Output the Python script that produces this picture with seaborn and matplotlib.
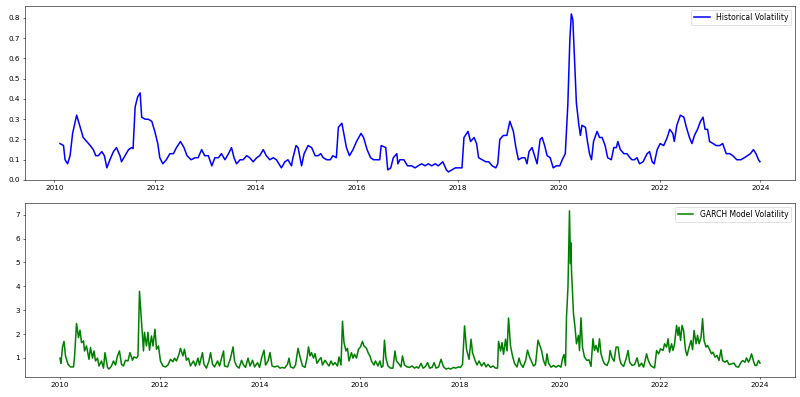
import pandas as pd
import matplotlib
matplotlib.use("Agg")
import matplotlib.pyplot as plt
import seaborn as sns

# Historical volatility (decimal year, value)
hv_years = [
    2010.11, 2010.18, 2010.21, 2010.26, 2010.31, 2010.36, 2010.44, 2010.51, 2010.57, 2010.64,
    2010.71, 2010.77, 2010.82, 2010.87, 2010.94, 2010.99, 2011.04, 2011.10, 2011.17, 2011.23,
    2011.30, 2011.33, 2011.40, 2011.47, 2011.53, 2011.56, 2011.60, 2011.65, 2011.70, 2011.73,
    2011.80, 2011.86, 2011.93, 2011.99, 2012.05, 2012.09, 2012.15, 2012.22, 2012.29, 2012.36,
    2012.42, 2012.50, 2012.57, 2012.63, 2012.71, 2012.79, 2012.85, 2012.92, 2012.98, 2013.05,
    2013.12, 2013.18, 2013.25, 2013.31, 2013.38, 2013.45, 2013.51, 2013.56, 2013.61, 2013.68,
    2013.74, 2013.81, 2013.87, 2013.94, 2014.01, 2014.07, 2014.14, 2014.20, 2014.27, 2014.34,
    2014.40, 2014.50, 2014.57, 2014.63, 2014.70, 2014.72, 2014.79, 2014.83, 2014.90, 2014.95,
    2015.03, 2015.10, 2015.17, 2015.23, 2015.28, 2015.33, 2015.40, 2015.47, 2015.52, 2015.59,
    2015.63, 2015.70, 2015.73, 2015.79, 2015.85, 2015.92, 2015.99, 2016.08, 2016.13, 2016.20,
    2016.27, 2016.33, 2016.40, 2016.45, 2016.48, 2016.57, 2016.61, 2016.67, 2016.72, 2016.79,
    2016.81, 2016.85, 2016.93, 2017.00, 2017.08, 2017.15, 2017.21, 2017.28, 2017.35, 2017.41,
    2017.48, 2017.55, 2017.61, 2017.70, 2017.77, 2017.81, 2017.88, 2017.95, 2018.03, 2018.08,
    2018.12, 2018.20, 2018.25, 2018.32, 2018.37, 2018.41, 2018.48, 2018.55, 2018.61, 2018.68,
    2018.75, 2018.79, 2018.83, 2018.90, 2018.97, 2019.03, 2019.10, 2019.15, 2019.20, 2019.27,
    2019.33, 2019.37, 2019.41, 2019.47, 2019.52, 2019.57, 2019.63, 2019.67, 2019.72, 2019.77,
    2019.83, 2019.89, 2019.95, 2020.02, 2020.07, 2020.13, 2020.18, 2020.22, 2020.25, 2020.28,
    2020.31, 2020.35, 2020.40, 2020.43, 2020.46, 2020.53, 2020.57, 2020.61, 2020.65, 2020.69,
    2020.76, 2020.81, 2020.86, 2020.92, 2020.97, 2021.04, 2021.09, 2021.14, 2021.17, 2021.22,
    2021.29, 2021.35, 2021.41, 2021.45, 2021.50, 2021.55, 2021.60, 2021.67, 2021.75, 2021.80,
    2021.85, 2021.89, 2021.95, 2022.01, 2022.08, 2022.15, 2022.20, 2022.26, 2022.29, 2022.34,
    2022.41, 2022.48, 2022.53, 2022.59, 2022.64, 2022.69, 2022.75, 2022.81, 2022.86, 2022.90,
    2022.95, 2022.99, 2023.06, 2023.12, 2023.19, 2023.25, 2023.32, 2023.39, 2023.45, 2023.53,
    2023.61, 2023.68, 2023.74, 2023.80, 2023.86, 2023.91, 2023.96, 2023.99,
]
hv_values = [
    0.18, 0.17, 0.10, 0.08, 0.12, 0.23, 0.32, 0.26, 0.21, 0.19,
    0.17, 0.15, 0.12, 0.12, 0.14, 0.12, 0.06, 0.10, 0.14, 0.16,
    0.12, 0.09, 0.12, 0.15, 0.16, 0.155, 0.36, 0.41, 0.43, 0.31,
    0.30, 0.30, 0.29, 0.24, 0.18, 0.11, 0.08, 0.10, 0.13, 0.13,
    0.16, 0.19, 0.16, 0.12, 0.10, 0.11, 0.11, 0.15, 0.12, 0.12,
    0.07, 0.11, 0.11, 0.13, 0.10, 0.13, 0.16, 0.11, 0.08, 0.10,
    0.10, 0.12, 0.11, 0.09, 0.11, 0.12, 0.15, 0.12, 0.10, 0.11,
    0.10, 0.06, 0.09, 0.10, 0.07, 0.10, 0.17, 0.16, 0.07, 0.13,
    0.17, 0.16, 0.12, 0.12, 0.13, 0.11, 0.10, 0.10, 0.12, 0.11,
    0.26, 0.28, 0.24, 0.16, 0.12, 0.15, 0.19, 0.23, 0.21, 0.15,
    0.11, 0.10, 0.10, 0.10, 0.17, 0.16, 0.05, 0.06, 0.11, 0.13,
    0.08, 0.10, 0.10, 0.07, 0.07, 0.06, 0.07, 0.08, 0.07, 0.08,
    0.07, 0.08, 0.07, 0.09, 0.05, 0.04, 0.05, 0.06, 0.06, 0.06,
    0.21, 0.24, 0.19, 0.21, 0.18, 0.11, 0.10, 0.09, 0.09, 0.07,
    0.06, 0.08, 0.20, 0.22, 0.22, 0.29, 0.24, 0.16, 0.10, 0.11,
    0.11, 0.08, 0.14, 0.16, 0.12, 0.08, 0.20, 0.21, 0.17, 0.12,
    0.11, 0.06, 0.07, 0.07, 0.10, 0.13, 0.37, 0.69, 0.82, 0.79,
    0.61, 0.38, 0.27, 0.22, 0.27, 0.26, 0.19, 0.13, 0.10, 0.19,
    0.24, 0.21, 0.21, 0.17, 0.11, 0.10, 0.16, 0.16, 0.19, 0.15,
    0.13, 0.13, 0.11, 0.10, 0.10, 0.11, 0.08, 0.09, 0.13, 0.14,
    0.09, 0.08, 0.15, 0.18, 0.17, 0.21, 0.25, 0.23, 0.19, 0.27,
    0.32, 0.31, 0.26, 0.21, 0.18, 0.22, 0.25, 0.29, 0.31, 0.25,
    0.25, 0.19, 0.18, 0.17, 0.17, 0.18, 0.13, 0.13, 0.12, 0.10,
    0.10, 0.11, 0.12, 0.13, 0.15, 0.13, 0.10, 0.09,
]

# GARCH model volatility (decimal year, value)
garch_years = [
    2010.00, 2010.02, 2010.05, 2010.08, 2010.11, 2010.16, 2010.21, 2010.27, 2010.29, 2010.33,
    2010.37, 2010.40, 2010.43, 2010.47, 2010.49, 2010.53, 2010.58, 2010.61, 2010.65, 2010.68,
    2010.71, 2010.75, 2010.78, 2010.83, 2010.87, 2010.90, 2010.95, 2010.98, 2011.03, 2011.07,
    2011.11, 2011.15, 2011.19, 2011.23, 2011.27, 2011.31, 2011.36, 2011.40, 2011.45, 2011.48,
    2011.53, 2011.56, 2011.59, 2011.63, 2011.67, 2011.69, 2011.73, 2011.76, 2011.79, 2011.83,
    2011.86, 2011.90, 2011.93, 2011.97, 2012.01, 2012.06, 2012.11, 2012.16, 2012.21, 2012.26,
    2012.29, 2012.33, 2012.38, 2012.41, 2012.46, 2012.49, 2012.53, 2012.57, 2012.61, 2012.67,
    2012.71, 2012.76, 2012.79, 2012.85, 2012.88, 2012.93, 2012.98, 2013.01, 2013.05, 2013.09,
    2013.15, 2013.19, 2013.23, 2013.27, 2013.29, 2013.35, 2013.41, 2013.46, 2013.49, 2013.53,
    2013.58, 2013.63, 2013.67, 2013.71, 2013.76, 2013.80, 2013.85, 2013.89, 2013.95, 2013.99,
    2014.03, 2014.08, 2014.11, 2014.16, 2014.20, 2014.24, 2014.29, 2014.35, 2014.40, 2014.45,
    2014.49, 2014.55, 2014.58, 2014.61, 2014.67, 2014.71, 2014.76, 2014.80, 2014.85, 2014.90,
    2014.94, 2014.97, 2015.00, 2015.03, 2015.07, 2015.10, 2015.14, 2015.19, 2015.22, 2015.25,
    2015.30, 2015.34, 2015.38, 2015.42, 2015.46, 2015.50, 2015.55, 2015.58, 2015.62, 2015.65,
    2015.68, 2015.72, 2015.75, 2015.78, 2015.83, 2015.86, 2015.89, 2015.93, 2015.97, 2016.01,
    2016.05, 2016.08, 2016.13, 2016.17, 2016.20, 2016.23, 2016.28, 2016.31, 2016.36, 2016.40,
    2016.43, 2016.46, 2016.49, 2016.52, 2016.56, 2016.61, 2016.66, 2016.70, 2016.73, 2016.77,
    2016.82, 2016.85, 2016.89, 2016.94, 2016.99, 2017.04, 2017.09, 2017.13, 2017.17, 2017.22,
    2017.26, 2017.30, 2017.35, 2017.39, 2017.44, 2017.48, 2017.52, 2017.57, 2017.62, 2017.67,
    2017.72, 2017.77, 2017.81, 2017.87, 2017.91, 2017.97, 2018.01, 2018.05, 2018.09, 2018.13,
    2018.18, 2018.22, 2018.25, 2018.30, 2018.34, 2018.38, 2018.43, 2018.48, 2018.52, 2018.56,
    2018.61, 2018.66, 2018.71, 2018.75, 2018.77, 2018.81, 2018.84, 2018.87, 2018.91, 2018.94,
    2018.97, 2019.01, 2019.05, 2019.09, 2019.14, 2019.18, 2019.21, 2019.26, 2019.31, 2019.35,
    2019.39, 2019.42, 2019.47, 2019.51, 2019.56, 2019.63, 2019.67, 2019.71, 2019.74, 2019.77,
    2019.82, 2019.87, 2019.92, 2019.97, 2020.02, 2020.05, 2020.08, 2020.11, 2020.13, 2020.16,
    2020.19, 2020.21, 2020.22, 2020.23, 2020.27, 2020.30, 2020.33, 2020.37, 2020.39, 2020.42,
    2020.45, 2020.49, 2020.54, 2020.58, 2020.62, 2020.66, 2020.69, 2020.72, 2020.76, 2020.79,
    2020.82, 2020.86, 2020.89, 2020.94, 2020.98, 2021.00, 2021.04, 2021.08, 2021.12, 2021.16,
    2021.19, 2021.22, 2021.27, 2021.32, 2021.36, 2021.39, 2021.44, 2021.49, 2021.54, 2021.58,
    2021.63, 2021.67, 2021.73, 2021.76, 2021.81, 2021.86, 2021.89, 2021.93, 2021.97, 2022.01,
    2022.06, 2022.09, 2022.13, 2022.16, 2022.19, 2022.23, 2022.26, 2022.29, 2022.33, 2022.36,
    2022.38, 2022.41, 2022.44, 2022.47, 2022.51, 2022.54, 2022.58, 2022.62, 2022.65, 2022.68,
    2022.72, 2022.75, 2022.78, 2022.82, 2022.85, 2022.88, 2022.92, 2022.95, 2023.00, 2023.03,
    2023.06, 2023.10, 2023.14, 2023.18, 2023.22, 2023.25, 2023.30, 2023.34, 2023.38, 2023.43,
    2023.48, 2023.52, 2023.57, 2023.61, 2023.65, 2023.70, 2023.73, 2023.77, 2023.80, 2023.83,
    2023.87, 2023.90, 2023.93, 2023.97, 2024.00,
]
garch_values = [
    0.99, 0.77, 1.46, 1.69, 1.08, 0.73, 0.62, 0.62, 1.01, 2.44,
    1.85, 2.16, 1.64, 1.71, 1.29, 1.50, 0.94, 1.43, 0.99, 1.29,
    0.87, 0.99, 0.66, 0.87, 0.57, 1.22, 0.60, 0.53, 0.66, 0.87,
    0.70, 1.08, 1.29, 0.73, 0.66, 0.90, 0.87, 1.22, 0.90, 1.04,
    0.99, 1.08, 3.79, 2.55, 1.29, 2.07, 1.50, 2.07, 1.32, 1.92,
    1.50, 2.20, 1.36, 1.50, 0.87, 0.66, 0.62, 0.70, 0.94, 0.84,
    0.99, 0.87, 1.15, 1.40, 1.08, 1.36, 0.90, 0.99, 0.66, 0.87,
    0.66, 0.99, 0.70, 1.22, 0.73, 0.57, 0.87, 1.22, 0.73, 0.62,
    0.87, 0.66, 0.99, 1.29, 0.66, 0.62, 0.99, 1.46, 0.87, 0.66,
    0.57, 0.90, 0.70, 0.60, 0.99, 0.66, 0.90, 0.62, 0.80, 0.60,
    0.99, 1.32, 0.70, 0.87, 1.22, 0.66, 0.62, 0.66, 0.57, 0.60,
    0.57, 0.73, 0.99, 0.62, 0.57, 0.70, 1.40, 1.04, 0.66, 0.60,
    0.99, 1.46, 1.08, 1.22, 0.99, 1.18, 0.77, 0.94, 1.01, 0.70,
    0.90, 0.77, 0.66, 0.87, 0.70, 0.80, 0.66, 1.04, 0.70, 2.53,
    1.64, 1.29, 1.40, 0.87, 1.22, 0.99, 1.15, 0.99, 1.36, 1.46,
    1.69, 1.50, 1.40, 1.18, 1.08, 0.87, 0.70, 0.87, 0.66, 0.87,
    0.60, 0.66, 1.74, 0.99, 0.66, 0.57, 0.57, 1.29, 0.87, 0.77,
    0.62, 1.08, 0.70, 0.62, 0.60, 0.66, 0.57, 0.62, 0.57, 0.77,
    0.57, 0.62, 0.80, 0.57, 0.60, 0.80, 0.57, 0.62, 0.94, 0.62,
    0.53, 0.57, 0.53, 0.60, 0.57, 0.62, 0.60, 0.73, 2.34, 1.36,
    0.94, 1.78, 1.22, 0.90, 0.70, 0.87, 0.66, 0.80, 0.62, 0.73,
    0.60, 0.66, 0.57, 0.57, 1.69, 1.29, 1.64, 1.15, 1.78, 1.29,
    2.67, 1.50, 1.08, 0.77, 0.62, 0.99, 0.77, 0.60, 0.87, 1.32,
    1.04, 0.90, 0.66, 0.73, 1.74, 1.31, 0.89, 0.68, 1.17, 0.78,
    0.61, 0.68, 0.61, 0.68, 0.61, 0.96, 1.14, 0.68, 2.71, 3.97,
    7.16, 4.95, 5.82, 4.67, 2.85, 2.29, 1.59, 1.94, 1.31, 2.68,
    1.45, 1.03, 0.89, 0.92, 0.64, 1.80, 1.31, 1.52, 1.24, 1.80,
    1.17, 0.89, 0.75, 0.68, 0.89, 1.31, 1.00, 0.86, 1.45, 1.45,
    0.96, 0.75, 0.64, 0.96, 1.31, 0.82, 0.68, 0.72, 1.00, 0.64,
    0.78, 0.61, 1.17, 0.92, 0.68, 0.61, 0.58, 1.31, 1.17, 1.38,
    1.31, 1.59, 1.45, 1.80, 1.24, 1.59, 1.31, 1.59, 2.36, 1.94,
    2.29, 1.73, 2.36, 2.15, 1.31, 1.10, 1.45, 1.73, 1.34, 2.15,
    1.59, 1.94, 1.59, 1.87, 2.64, 1.73, 1.45, 1.52, 1.31, 1.17,
    1.24, 1.03, 1.10, 0.89, 1.34, 0.89, 0.82, 0.89, 0.72, 0.75,
    0.78, 0.64, 0.61, 0.78, 0.89, 0.82, 1.00, 0.82, 0.96, 1.17,
    0.86, 0.68, 0.68, 0.89, 0.78,
]


def to_dates(years):
    # decimal year -> timestamp
    out = []
    for y in years:
        base = pd.Timestamp(year=int(y), month=1, day=1)
        out.append(base + pd.Timedelta(days=(y - int(y)) * 365.25))
    return out


hv = pd.DataFrame({'date': to_dates(hv_years), 'vol': hv_values})
garch = pd.DataFrame({'date': to_dates(garch_years), 'vol': garch_values})

fig = plt.figure(figsize=(16, 7.94), dpi=50)
ax1 = fig.add_axes([0.03125, 0.5466, 0.9625, 0.4383])
ax2 = fig.add_axes([0.03125, 0.0504, 0.9625, 0.4383])

sns.lineplot(data=hv, x='date', y='vol', ax=ax1, color='blue', linewidth=2.2,
             label='Historical Volatility', estimator=None)
sns.lineplot(data=garch, x='date', y='vol', ax=ax2, color='green', linewidth=2.2,
             label='GARCH Model Volatility', estimator=None)

for ax in (ax1, ax2):
    ax.set_xlabel('')
    ax.set_ylabel('')
    ax.tick_params(labelsize=10.5)
    ax.legend(loc='upper right', fontsize=11)

ax1.set_yticks([0.0, 0.1, 0.2, 0.3, 0.4, 0.5, 0.6, 0.7, 0.8])

fig.savefig('out.png', dpi=50)
